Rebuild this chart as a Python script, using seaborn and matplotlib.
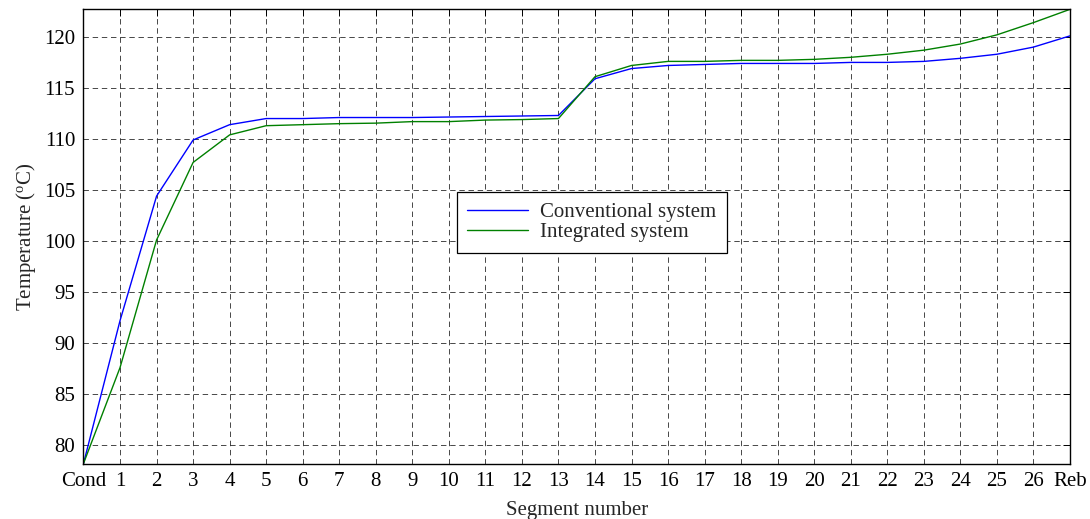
import numpy as np
import pandas as pd
import matplotlib
matplotlib.use("Agg")
import matplotlib.pyplot as plt
import seaborn as sns

# Segment labels along the column (condenser, stages 1-26, reboiler)
segments = ["Cond"] + [str(i) for i in range(1, 27)] + ["Reb"]

conventional = [78.2, 92.2, 104.4, 109.9, 111.4, 112.0, 112.0, 112.1, 112.1, 112.1,
                112.15, 112.2, 112.25, 112.3, 115.9, 116.9, 117.2, 117.3, 117.4, 117.4,
                117.4, 117.5, 117.5, 117.6, 117.9, 118.3, 119.0, 120.1]
integrated = [78.2, 87.6, 100.1, 107.7, 110.4, 111.3, 111.4, 111.5, 111.55, 111.7,
              111.7, 111.85, 111.9, 112.0, 116.1, 117.2, 117.6, 117.6, 117.7, 117.7,
              117.8, 118.0, 118.3, 118.7, 119.3, 120.2, 121.4, 122.7]
series_names = ["Conventional system", "Integrated system"]
yticks = [80, 85, 90, 95, 100, 105, 110, 115, 120]

sns.set_theme(style="white")
plt.rcParams["font.family"] = ["Liberation Serif", "DejaVu Serif"]
plt.rcParams["mathtext.fontset"] = "custom"
plt.rcParams["mathtext.rm"] = "Liberation Serif"
plt.rcParams["mathtext.it"] = "Liberation Serif:italic"

FS = 15

pos = np.arange(len(segments))
df = pd.DataFrame({
    "segment": np.concatenate([pos, pos]),
    "temp": conventional + integrated,
    "system": [series_names[0]] * len(pos) + [series_names[1]] * len(pos),
})

fig = plt.figure(figsize=(10.9, 5.19), dpi=100)
ax = fig.add_axes([0.0766, 0.1069, 0.905, 0.8751])

sns.lineplot(data=df, x="segment", y="temp", hue="system",
             palette={series_names[0]: "#0000ff", series_names[1]: "#008000"},
             linewidth=1.0, ax=ax, legend=False)

ax.set_xlim(0, len(segments) - 1)
ax.set_ylim(78.2, 122.7)
ax.set_xticks(pos)
ax.set_xticklabels(segments)
ax.set_yticks(yticks)

ax.grid(True, color="#2a2a2a", linestyle=(0, (6.5, 4.5)), linewidth=0.6)
ax.tick_params(direction="in", top=True, right=True, length=5, width=0.7,
               labelsize=FS, colors="black", pad=6)
for sp in ax.spines.values():
    sp.set_color("black")
    sp.set_linewidth(1.0)

ax.set_xlabel("Segment number", fontsize=FS, labelpad=7)
ax.set_ylabel("Temperature ($^{\\mathrm{o}}$C)", fontsize=FS, labelpad=4)

handles = [plt.Line2D([], [], color="#0000ff", linewidth=1.0),
           plt.Line2D([], [], color="#008000", linewidth=1.0)]
leg = ax.legend(handles, series_names, loc="upper left",
                bbox_to_anchor=(0.3786, 0.5978), fontsize=FS,
                frameon=True, fancybox=False, framealpha=1, edgecolor="black",
                handlelength=2.9, borderpad=0.5, labelspacing=0.03,
                handletextpad=0.6, borderaxespad=0)
leg.get_frame().set_linewidth(0.9)

fig.savefig("out.png", dpi=100)
